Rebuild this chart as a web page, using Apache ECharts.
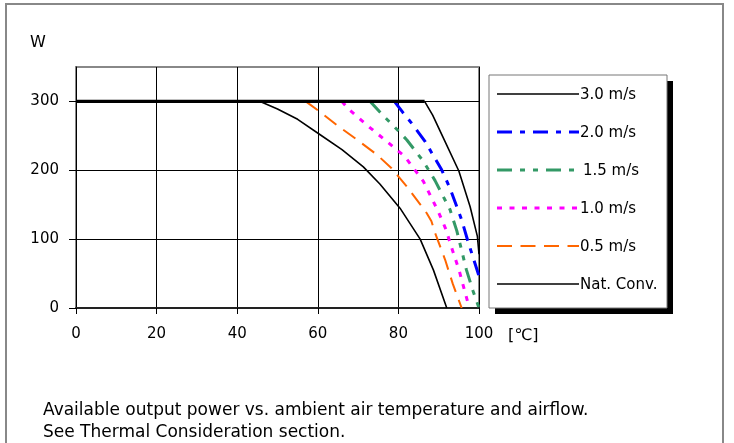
<!DOCTYPE html>
<html>
<head>
<meta charset="utf-8">
<script src="https://cdn.jsdelivr.net/npm/echarts@6/dist/echarts.min.js"></script>
<style>
  html, body { margin: 0; padding: 0; background: #fff; }
  #chart { width: 734px; height: 443px; }
</style>
</head>
<body>
<div id="chart"></div>
<script>
  // tick labels
  const xTicks = [0, 20, 40, 60, 80, 100]
  const yTicks = [0, 100, 200, 300]

  // 300 W plateau shared by every curve
  const flatTemp = [0, 86.5]
  const flatPower = [300, 300]

  // derating curves (temp in C, power in W)
  const temp30 = [86.5, 88.5, 91, 95, 97.8, 99.6, 100]
  const power30 = [300, 280, 249, 199, 147, 104, 78]

  const temp20 = [79, 81.1, 83.6, 86.6, 90.7, 92.8, 95.7, 97.3, 99.8, 100]
  const power20 = [300, 284, 266, 242, 201, 174, 128, 96, 50, 46]

  const temp15 = [73, 76.3, 80.2, 82.1, 86.2, 89.1, 92.8, 94.5, 96.9, 98.5, 100]
  const power15 = [300, 279, 256, 244, 213, 185, 143, 112, 55, 25, 0]

  const temp10 = [66, 67.6, 72.1, 77.1, 81.6, 86.2, 89.9, 91.8, 92.8, 95.1, 97.6]
  const power10 = [300, 289, 266, 242, 220, 184, 140, 114, 95, 54, 0]

  const temp05 = [57, 60.5, 65.1, 69.6, 74.6, 78.3, 82, 87, 88.2, 89.1, 91.6, 93.5, 95.7]
  const power05 = [300, 285, 264, 245, 223, 203, 177, 138, 126, 109, 70, 35, 0]

  const tempNat = [45.7, 50, 55, 60.5, 66, 71.3, 75.4, 80.4, 85.4, 88.7, 92]
  const powerNat = [300, 289, 274, 252, 230, 205, 180, 145, 100, 55, 0]

  const legendNames = ['3.0 m/s', '2.0 m/s', '1.5 m/s', '1.0 m/s', '0.5 m/s', 'Nat. Conv.']

  const FONT = '"DejaVu Sans", sans-serif'

  function pairs(xs, ys) {
    return xs.map((x, i) => [x, ys[i]])
  }

  const styles = [
    { color: '#000000', width: 1.6, type: 'solid' },
    { color: '#0000ff', width: 3, type: [15, 8, 5, 8] },
    { color: '#339966', width: 3, type: [15, 8, 5, 8, 5, 8] },
    { color: '#ff00ff', width: 3, type: [5, 7.5] },
    { color: '#ff6600', width: 2, type: [15, 8.5] },
    { color: '#000000', width: 1.6, type: 'solid' }
  ]

  const curves = [
    pairs(temp30, power30),
    pairs(temp20, power20),
    pairs(temp15, power15),
    pairs(temp10, power10),
    pairs(temp05, power05),
    pairs(tempNat, powerNat)
  ]

  const series = curves.map((data, i) => ({
    name: legendNames[i],
    type: 'line',
    data: data,
    showSymbol: false,
    smooth: false,
    silent: true,
    z: 3 + (i === 0 || i === 5 ? 1 : 0),
    lineStyle: { color: styles[i].color, width: styles[i].width, type: styles[i].type, cap: 'butt', join: 'round' }
  }))
  series.push({
    name: 'limit',
    type: 'line',
    data: pairs(flatTemp, flatPower),
    showSymbol: false,
    silent: true,
    z: 5,
    lineStyle: { color: '#000', width: 3.2 }
  })

  // legend drawn by hand so the dash patterns match
  const legendX = 489, legendY = 75, legendW = 178, legendH = 233
  const rowY = [94, 132, 170, 208, 246, 284]
  const legendItems = [
    { type: 'rect', shape: { x: legendX + 6, y: legendY + 6, width: legendW, height: legendH }, style: { fill: '#000' } },
    { type: 'rect', shape: { x: legendX, y: legendY, width: legendW, height: legendH }, style: { fill: '#fff', stroke: '#777', lineWidth: 1 } }
  ]
  legendNames.forEach((name, i) => {
    legendItems.push({
      type: 'line',
      shape: { x1: 497, y1: rowY[i], x2: 579, y2: rowY[i] },
      style: { stroke: styles[i].color, lineWidth: styles[i].width, lineDash: styles[i].type === 'solid' ? null : styles[i].type, lineCap: 'butt' }
    })
    legendItems.push({
      type: 'text',
      x: i === 2 ? 583 : 580, y: rowY[i] + 1,
      style: { text: name, font: '15px ' + FONT, fill: '#000', textVerticalAlign: 'middle' }
    })
  })

  const chart = echarts.init(document.getElementById('chart'), null, { renderer: 'canvas' })
  chart.setOption({
    animation: false,
    backgroundColor: '#fff',
    grid: {
      left: 76, right: 255, top: 67, bottom: 135,
      show: true, borderColor: '#888', borderWidth: 2, backgroundColor: 'transparent'
    },
    xAxis: {
      type: 'value',
      min: xTicks[0], max: xTicks[xTicks.length - 1], interval: 20,
      axisLine: { lineStyle: { color: '#222', width: 2 } },
      axisTick: { show: true, length: 6, inside: false, lineStyle: { color: '#000' } },
      axisLabel: { margin: 19, fontSize: 15, color: '#000', fontFamily: FONT },
      splitLine: { lineStyle: { color: '#000', width: 1 } }
    },
    yAxis: {
      type: 'value',
      min: yTicks[0], max: 350, interval: 100,
      axisLine: { show: true, lineStyle: { color: '#000', width: 1 } },
      axisTick: { show: true, length: 7, customValues: yTicks, lineStyle: { color: '#000' } },
      axisLabel: {
        margin: 17, fontSize: 15, color: '#000', fontFamily: FONT,
        customValues: yTicks
      },
      splitLine: { lineStyle: { color: '#000', width: 1 } }
    },
    graphic: [
      { type: 'rect', shape: { x: 6, y: 4, width: 717, height: 460 }, style: { fill: 'none', stroke: '#888', lineWidth: 2 }, z: -1 },
      { type: 'text', x: 30, y: 43, style: { text: 'W', font: '16px ' + FONT, fill: '#000', textVerticalAlign: 'middle' } },
      { type: 'text', x: 508, y: 336, style: { text: '[℃]', font: '16px ' + FONT, fill: '#000', textVerticalAlign: 'middle' } },
      {
        type: 'text', x: 43, y: 400,
        style: {
          text: 'Available output power vs. ambient air temperature and airflow.\nSee Thermal Consideration section.',
          font: '17px ' + FONT, fill: '#000', lineHeight: 22
        }
      }
    ].concat(legendItems),
    series: series
  })
</script>
</body>
</html>
